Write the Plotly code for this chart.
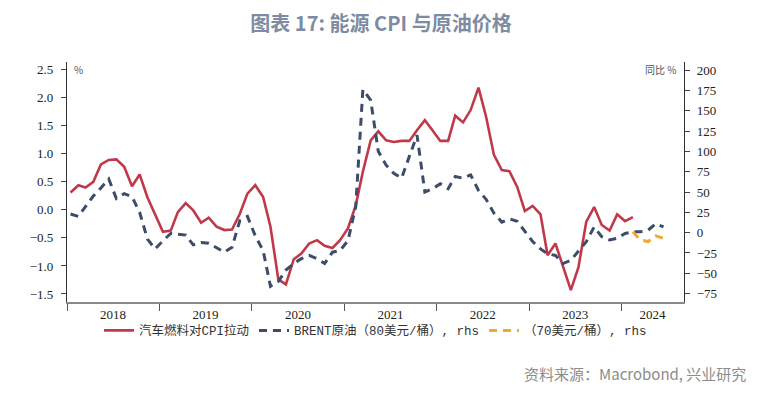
import plotly.graph_objects as go

# ---------------- data ----------------
start_year = 2018
years = ["2018", "2019", "2020", "2021", "2022", "2023", "2024"]

# 汽车燃料对CPI拉动 (%), monthly from 2018-01
fuel_cpi = [
    0.31, 0.44, 0.40, 0.50, 0.81, 0.89, 0.90, 0.77, 0.42, 0.63, 0.22, -0.08,
    -0.39, -0.37, -0.04, 0.12, -0.01, -0.23, -0.14, -0.30, -0.36, -0.35, -0.07, 0.29,
    0.44, 0.23, -0.30, -1.24, -1.33, -0.88, -0.78, -0.60, -0.54, -0.64, -0.68, -0.54,
    -0.33, 0.08, 0.68, 1.24, 1.40, 1.24, 1.21, 1.23, 1.23, 1.42, 1.60, 1.42,
    1.23, 1.23, 1.68, 1.56, 1.78, 2.18, 1.66, 0.98, 0.71, 0.69, 0.41, -0.02,
    0.07, -0.08, -0.81, -0.60, -0.99, -1.43, -1.02, -0.21, 0.05, -0.27, -0.37, -0.08,
    -0.20, -0.13,
]

# BRENT原油 同比 (%), 80美元/桶 scenario, monthly from 2018-01
brent_80 = [
    23, 20, 32, 45, 55, 66, 42, 48, 44, 25, -8, -20,
    -10, -1, -2, -3, -15, -12, -13, -18, -24, -18, 15, 20,
    -4, -22, -66, -60, -46, -38, -32, -28, -32, -38, -24, -22,
    -10, 32, 176, 163, 100, 83, 73, 67, 93, 120, 50, 54,
    60, 54, 69, 67, 71, 52, 41, 24, 13, 17, 14, 1,
    -11, -20, -26, -28, -38, -34, -22, -11, 7, -5, -9, -7,
    -1, 1, 1, 3, 11, 7,
]

# 70美元/桶 scenario, monthly from 2024-02
brent_70_start = 73
brent_70 = [1, -9, -11, -4, -7]

left_ticks = [-1.5, -1.0, -0.5, 0.0, 0.5, 1.0, 1.5, 2.0, 2.5]
right_ticks = [-75, -50, -25, 0, 25, 50, 75, 100, 125, 150, 175, 200]


def month_dates(first, n):
    out = []
    for i in range(first, first + n):
        y = start_year + i // 12
        m = i % 12 + 1
        out.append(f"{y}-{m:02d}-15")
    return out


RED = "#c0394b"
NAVY = "#3d4c69"
ORANGE = "#f0a830"
CJK = "Noto Sans CJK SC"
SERIF = "Liberation Serif"

x_end = "2024-09-04"

fig = go.Figure()
fig.add_trace(go.Scatter(
    x=month_dates(0, len(fuel_cpi)), y=fuel_cpi, mode="lines",
    name="汽车燃料对CPI拉动",
    line=dict(color=RED, width=2.6), yaxis="y"))
fig.add_trace(go.Scatter(
    x=month_dates(0, len(brent_80)), y=brent_80, mode="lines",
    name="BRENT原油（80美元/桶）, rhs",
    line=dict(color=NAVY, width=3, dash="8px,6px"), yaxis="y2"))
fig.add_trace(go.Scatter(
    x=month_dates(brent_70_start, len(brent_70)), y=brent_70, mode="lines",
    name="（70美元/桶）, rhs",
    line=dict(color=ORANGE, width=3, dash="8px,6px"), yaxis="y2"))

# label positions: middle of each (visible) year
label_pos = [f"{y}-07-02" for y in years[:-1]] + ["2024-05-03"]
year_bounds = [f"{y}-01-01" for y in years]

fig.update_layout(
    width=762, height=394,
    margin=dict(l=67, r=78, t=62, b=92),
    paper_bgcolor="white", plot_bgcolor="white",
    title=dict(text="<b>图表 17: 能源 CPI 与原油价格</b>", x=0.5, xanchor="center",
               y=1 - 24 / 394, yanchor="middle",
               font=dict(family=CJK, size=20, color="#7d8ca3")),
    showlegend=True,
    legend=dict(orientation="h", x=0.5, xanchor="center", y=-0.12, yanchor="middle",
                font=dict(family="Liberation Mono, " + CJK, size=12.5, color="#333"),
                itemwidth=30, bgcolor="rgba(0,0,0,0)"),
    xaxis=dict(type="date", range=["2018-01-01", x_end],
               tickmode="array", tickvals=label_pos, ticktext=years,
               ticks="", showline=True, linecolor="#8a8a8a", linewidth=1.5,
               showgrid=False, zeroline=False,
               tickfont=dict(family=SERIF, size=13, color="#222"),
               minor=dict(tickmode="array", tickvals=year_bounds, ticks="outside",
                          ticklen=7, tickcolor="#555", tickwidth=1.2, showgrid=False)),
    yaxis=dict(range=[-1.643, 2.637], tickmode="array", tickvals=left_ticks,
               tickformat=".1f", ticks="outside", ticklen=5, tickcolor="#444",
               showline=True, linecolor="#333", linewidth=1.2,
               showgrid=False, zeroline=False, ticklabelstandoff=5,
               tickfont=dict(family=SERIF, size=13, color="#222")),
    yaxis2=dict(range=[-85.3, 209.9], overlaying="y", side="right",
                tickmode="array", tickvals=right_ticks,
                ticks="outside", ticklen=5, tickcolor="#444",
                showline=True, linecolor="#333", linewidth=1.2,
                showgrid=False, zeroline=False, ticklabelstandoff=4,
                tickfont=dict(family=SERIF, size=13, color="#222")),
)

fig.add_annotation(text="%", xref="paper", yref="paper", x=0.008, y=0.97,
                   xanchor="left", yanchor="middle", showarrow=False,
                   font=dict(family=CJK, size=10, color="#555"))
fig.add_annotation(text="同比 %", xref="paper", yref="paper", x=0.99, y=0.97,
                   xanchor="right", yanchor="middle", showarrow=False,
                   font=dict(family=CJK, size=10, color="#555"))
fig.add_annotation(text="资料来源：Macrobond, 兴业研究", xref="paper", yref="paper",
                   x=1 + (748 - 684) / 617, y=-(373 - 302) / 240,
                   xanchor="right", yanchor="middle", showarrow=False,
                   font=dict(family=CJK, size=15, color="#8c8c8c"))

fig.write_html("out.html", config={"displayModeBar": False},
               post_script="document.body.style.margin='0';document.body.style.padding='0';"
                           "document.body.style.overflow='hidden';")
